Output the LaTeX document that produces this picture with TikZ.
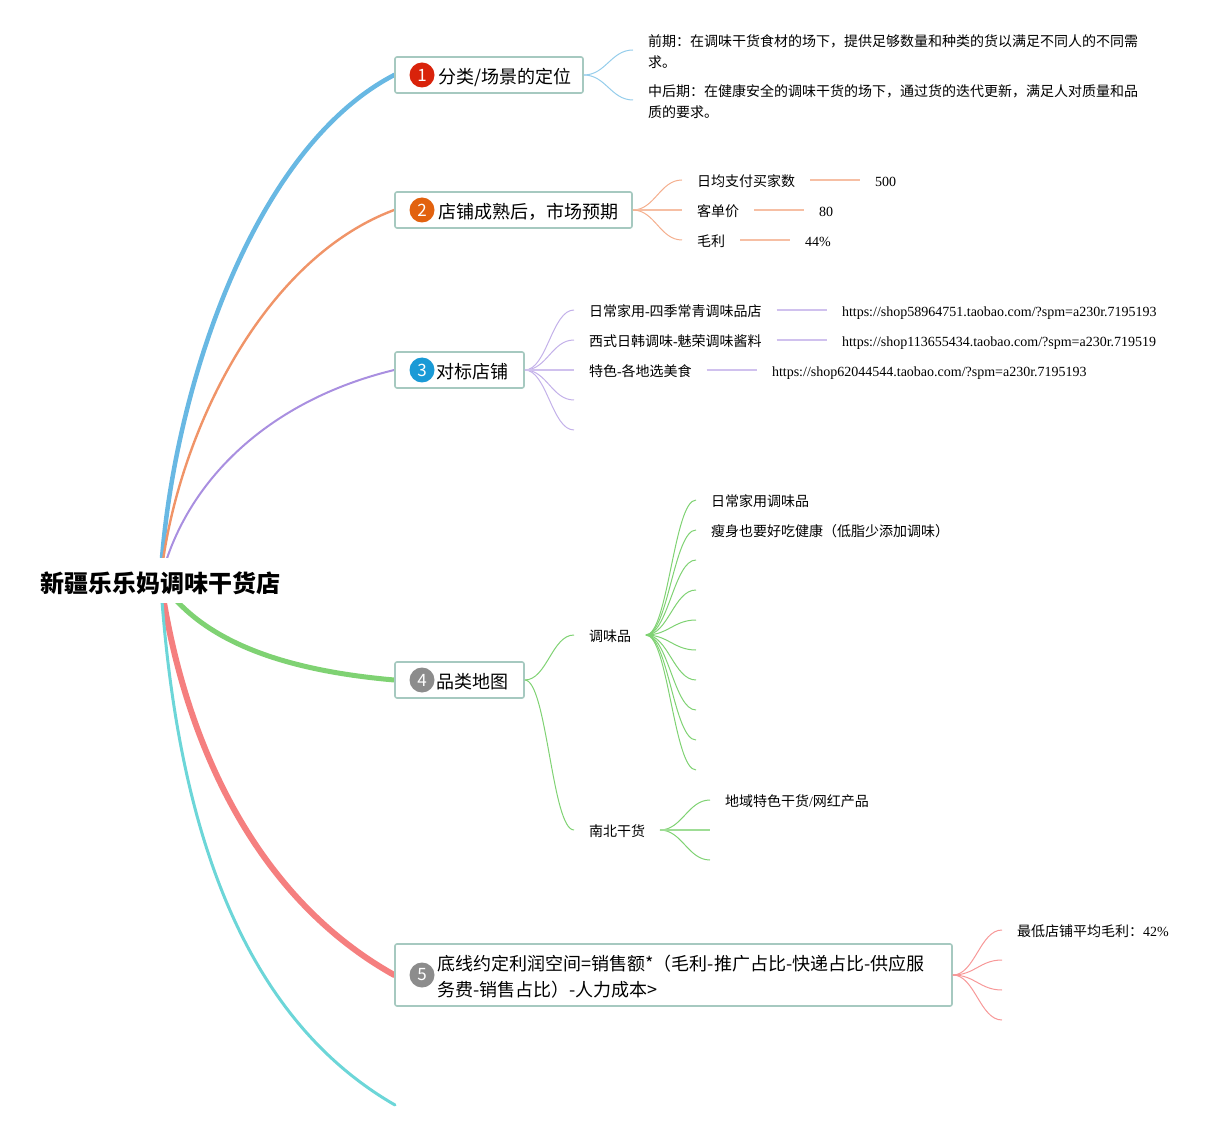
\documentclass[tikz,border=0pt]{standalone}
\usepackage{fontspec}
\setmainfont{Liberation Serif}
\newfontfamily\cjk{Noto Sans CJK SC}
\usetikzlibrary{backgrounds}
\newcommand{\z}[1]{{\cjk #1}}
\newcommand{\tp}[2]{\hspace*{39.8pt}\raisebox{-4.5pt}[0pt][0pt]{\parbox[c]{#1pt}{\raggedright\cjk\fontsize{18}{26}\selectfont #2}}}
\definecolor{cblue}{HTML}{68B8E3}
\definecolor{corange}{HTML}{F09468}
\definecolor{cpurple}{HTML}{A98FE0}
\definecolor{cgreen}{HTML}{7FD273}
\definecolor{cred}{HTML}{F57F7F}
\definecolor{ccyan}{HTML}{6CD6D8}
\definecolor{boxc}{HTML}{A6C9C0}
\definecolor{bone}{HTML}{D9230B}
\definecolor{btwo}{HTML}{E2620F}
\definecolor{bthree}{HTML}{1A9AD6}
\definecolor{bgray}{HTML}{8C8C8C}
\tikzset{
  x=1pt,y=-1pt,
  rootnode/.style={fill=white,inner xsep=0pt,inner ysep=0pt,text height=34pt,text depth=11pt,font=\cjk\bfseries\fontsize{24}{28}\selectfont},
  topicbox/.style={draw=boxc,line width=1.6pt,rounded corners=2pt,fill=white,inner sep=0pt,anchor=west,align=left},
  badge/.style={circle,minimum size=25pt,inner sep=0pt,text=white,font=\cjk\fontsize{17}{18}\selectfont},
  leaf/.style={anchor=west,inner ysep=0pt,inner xsep=0pt,outer xsep=15pt,outer ysep=0pt,text height=15pt,text depth=2pt,font=\fontsize{14}{14}\selectfont},
  leafm/.style={anchor=west,inner sep=0pt,outer xsep=15pt,align=left,text width=495pt,font=\fontsize{14}{21}\selectfont},
  spoke/.style={line width=1pt},
  lead/.style={line width=1.5pt},
  br/.style={line cap=round},
}
\newcommand{\sk}[3]{\draw[spoke,#1] (#2) .. controls +(22,0) and +(-22,0) .. (#3);}
\begin{document}
\begin{tikzpicture}
\useasboundingbox (0,0) rectangle (1229,1131);
\node[rootnode] (root) at (160.5,580.5) {新疆乐乐妈调味干货店};

\node[topicbox,minimum width=188pt,minimum height=36pt] (t1) at (394.2,75) {\tp{140}{分类/场景的定位}};
\node[topicbox,minimum width=237pt,minimum height=36pt] (t2) at (394.2,210) {\tp{190}{店铺成熟后，市场预期}};
\node[topicbox,minimum width=129pt,minimum height=36pt] (t3) at (394.2,370) {\tp{85}{对标店铺}};
\node[topicbox,minimum width=129pt,minimum height=36pt] (t4) at (394.2,680) {\tp{85}{品类地图}};
\node[topicbox,minimum width=557pt,minimum height=62pt] (t5) at (394.2,975) {\tp{512}{底线约定利润空间=销售额*（毛利-推广占比-快递占比-供应服\\务费-销售占比）-人力成本>}};
\coordinate (t6) at (395,1105);

\node[badge,fill=bone] (b1) at (422,75) {1};
\node[badge,fill=btwo] (b2) at (422,210) {2};
\node[badge,fill=bthree] (b3) at (422,370) {3};
\node[badge,fill=bgray] (b4) at (422,680) {4};
\node[badge,fill=bgray] (b5) at (422,975) {5};

\begin{pgfonlayer}{background}
\draw[br,cblue,line width=4.5pt] (root.center) .. controls (170,400) and (250,150) .. (t1.west);
\draw[br,corange,line width=2.4pt] (root.center) .. controls (175,440) and (260,260) .. (t2.west);
\draw[br,cpurple,line width=2pt] (root.center) .. controls (185,480) and (270,400) .. (t3.west);
\draw[br,cgreen,line width=5pt] (root.center) .. controls (200,640) and (280,670) .. (t4.west);
\draw[br,cred,line width=6pt] (root.center) .. controls (185,750) and (260,900) .. (t5.west);
\draw[br,ccyan,line width=3pt] (root.center) .. controls (175,800) and (230,1010) .. (t6);
\end{pgfonlayer}

% branch 1
\node[leafm] (a1) at (633,50) {\rule{0pt}{16pt}\z{前期：在调味干货食材的场下，提供足够数量和种类的货以满足不同人的不同需}\\\z{求。}};
\node[leafm] (a2) at (633,100) {\rule{0pt}{16pt}\z{中后期：在健康安全的调味干货的场下，通过货的迭代更新，满足人对质量和品}\\\z{质的要求。}};
\sk{cblue!70}{t1.east}{a1.west}
\sk{cblue!70}{t1.east}{a2.west}

% branch 2
\node[leaf] (c1) at (682,180) {\z{日均支付买家数}};
\node[leaf] (c2) at (682,210) {\z{客单价}};
\node[leaf] (c3) at (682,240) {\z{毛利}};
\node[leaf] (v1) at (860,180) {500};
\node[leaf] (v2) at (804,210) {80};
\node[leaf] (v3) at (790,240) {44\%};
\sk{corange!75}{t2.east}{c1.west}
\draw[lead,corange!60] (t2.east) -- (c2.west);
\sk{corange!75}{t2.east}{c3.west}
\draw[lead,corange!60] (c1) -- (v1);
\draw[lead,corange!60] (c2) -- (v2);
\draw[lead,corange!60] (c3) -- (v3);

% branch 3
\node[leaf] (d1) at (574,310) {\z{日常家用}-\z{四季常青调味品店}};
\node[leaf] (d2) at (574,340) {\z{西式日韩调味}-\z{魅荣调味酱料}};
\node[leaf] (d3) at (574,370) {\z{特色}-\z{各地选美食}};
\coordinate (d4) at (574,400);
\coordinate (d5) at (574,430);
\node[leaf] (u1) at (827,310) {https://shop58964751.taobao.com/?spm=a230r.7195193};
\node[leaf] (u2) at (827,340) {https://shop113655434.taobao.com/?spm=a230r.719519};
\node[leaf] (u3) at (757,370) {https://shop62044544.taobao.com/?spm=a230r.7195193};
\foreach \n in {d1.west,d2.west,d4,d5}{\sk{cpurple!70}{t3.east}{\n}}
\draw[lead,cpurple!55] (t3.east) -- (d3.west);
\draw[lead,cpurple!55] (d1) -- (u1);
\draw[lead,cpurple!55] (d2) -- (u2);
\draw[lead,cpurple!55] (d3) -- (u3);

% branch 4
\node[leaf] (e1) at (574,635) {\z{调味品}};
\node[leaf] (e2) at (574,830) {\z{南北干货}};
\sk{cgreen}{t4.east}{e1.west}
\sk{cgreen}{t4.east}{e2.west}
\node[leaf] (f1) at (696,500) {\z{日常家用调味品}};
\node[leaf] (f2) at (696,530) {\z{瘦身也要好吃健康（低脂少添加调味\kern0pt）}};
\coordinate (f3) at (696,560);
\coordinate (f4) at (696,590);
\coordinate (f5) at (696,620);
\coordinate (f6) at (696,650);
\coordinate (f7) at (696,680);
\coordinate (f8) at (696,710);
\coordinate (f9) at (696,740);
\coordinate (f10) at (696,770);
\foreach \n in {f1.west,f2.west,f3,f4,f5,f6,f7,f8,f9,f10}{\sk{cgreen}{e1.east}{\n}}
\node[leaf] (g1) at (710,800) {\z{地域特色干货}/\z{网红产品}};
\coordinate (g2) at (710,830);
\coordinate (g3) at (710,860);
\foreach \n in {g1.west,g3}{\sk{cgreen}{e2.east}{\n}}
\draw[lead,cgreen!75] (e2.east) -- (g2);

% branch 5
\node[leaf] (h1) at (1002,930) {\z{最低店铺平均毛利：}42\%};
\coordinate (h2) at (1002,960);
\coordinate (h3) at (1002,990);
\coordinate (h4) at (1002,1020);
\foreach \n in {h1.west,h2,h3,h4}{\sk{cred!80}{t5.east}{\n}}
\end{tikzpicture}
\end{document}
